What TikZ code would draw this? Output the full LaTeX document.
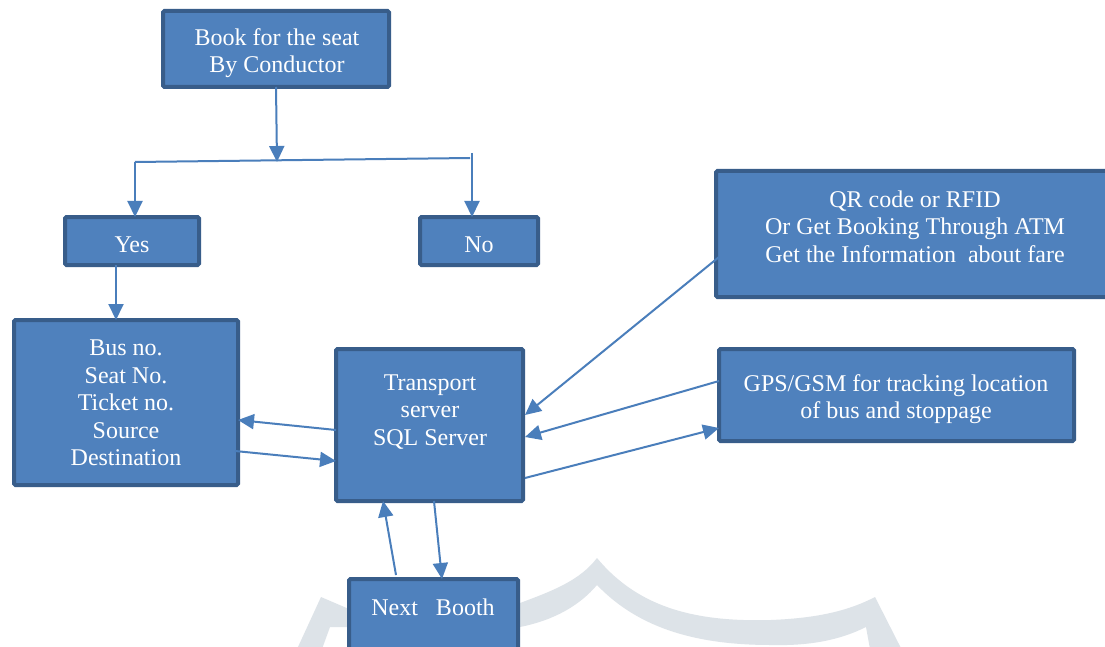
\documentclass[tikz,border=0pt]{standalone}
\usepackage{fontspec}
\setmainfont{Liberation Serif}
\usetikzlibrary{arrows.meta,calc}
\definecolor{boxfill}{HTML}{4F81BD}
\definecolor{boxline}{HTML}{385D8A}
\definecolor{conn}{HTML}{4A7EBB}
\definecolor{wmark}{HTML}{DDE3E8}
\begin{document}
\begin{tikzpicture}[x=1pt,y=-1pt,
  box/.style={draw=boxline,fill=boxfill,line width=4pt,rounded corners=1.5pt,inner sep=0pt,outer sep=0pt},
  txt/.style={text=white,align=center,inner sep=0pt,font=\fontsize{24}{27.5}\selectfont},
  conn/.style={draw=conn,line width=2pt},
  arr/.style={conn,-{Triangle[length=16pt,width=15pt]}}]
\clip (0,0) rectangle (1105,647);
\fill[white] (0,0) rectangle (1105,647);
% watermark
\fill[wmark] (292,660) -- (321,597) -- (349,609) -- (520,603)
  .. controls (555,590) and (580,580) .. (597,558)
  .. controls (640,610) and (700,622) .. (771,620)
  .. controls (820,618) and (850,610) .. (875,597)
  -- (907,660) -- (872,660) -- (866,627)
  .. controls (840,640) and (810,646) .. (771,645)
  .. controls (700,645) and (640,630) .. (597,585)
  .. controls (580,605) and (555,620) .. (520,627)
  -- (330,627) -- (318,660) -- cycle;
% boxes
\node[box,minimum width=226,minimum height=76] (top) at (276,49) {};
\node[box,minimum width=134,minimum height=48] (yes) at (132,241) {};
\node[box,minimum width=118,minimum height=48] (no) at (479,241) {};
\node[box,minimum width=224,minimum height=165] (bus) at (126,402.5) {};
\node[box,minimum width=187,minimum height=152] (trans) at (429.5,425) {};
\node[box,minimum width=169,minimum height=99] (booth) at (433.5,628.5) {};
\node[box,minimum width=398,minimum height=126] (qr) at (915,234) {};
\node[box,minimum width=355,minimum height=92] (gps) at (896.5,395) {};
% texts
\node[txt] (topt) at (277,53) {Book for the seat\\By Conductor};
\node[txt] (yest) at (132,245) {Yes};
\node[txt] (not) at (479,245) {No};
\node[txt] (bust) at (126,403) {Bus no.\\Seat No.\\Ticket no.\\Source\\Destination};
\node[txt] (transt) at (430,412) {Transport\\server\\SQL Server};
\node[txt] (bootht) at (433,607) {Next\ \ \ Booth};
\node[txt] (qrt) at (915,226.5) {QR code or RFID\\Or Get Booking Through ATM\\Get the Information\ \ about fare};
\node[txt] (gpst) at (896,399) {GPS/GSM for tracking location\\of bus and stoppage};
% split connectors
\coordinate (j) at (277,162);
\coordinate (hl) at (135,162);
\coordinate (hr) at (470,158);
\coordinate (nr) at (472,153);
\draw[arr] (top.south) -- (j);
\draw[conn] (hr) -- (hl);
\draw[arr] (hl) -- (hl |- yes.north);
\draw[arr] (nr) -- (nr |- no.north);
\draw[arr] ($(yes.south)+(-16,0)$) -- ($(bus.north)+(-10,0)$);
% transport links
\draw[arr] ($(trans.west)+(0,5)$) -- ($(bus.east)+(0,17.5)$);
\draw[arr] ($(bus.east)+(-3,48.5)$) -- ($(trans.west)+(0,36)$);
\draw[arr] ($(qr.west)+(3,23)$) -- ($(trans.east)+(2,-10)$);
\draw[arr] ($(gps.west)+(0,-14)$) -- ($(trans.east)+(2,12)$);
\draw[arr] ($(trans.east)+(2,53)$) -- ($(gps.west)+(0,33)$);
\draw[arr] ($(booth.north)+(-37.5,-4)$) -- ($(trans.south)+(-46.5,0)$);
\draw[arr] ($(trans.south)+(4.5,0)$) -- ($(booth.north)+(8.5,0)$);
\end{tikzpicture}
\end{document}
